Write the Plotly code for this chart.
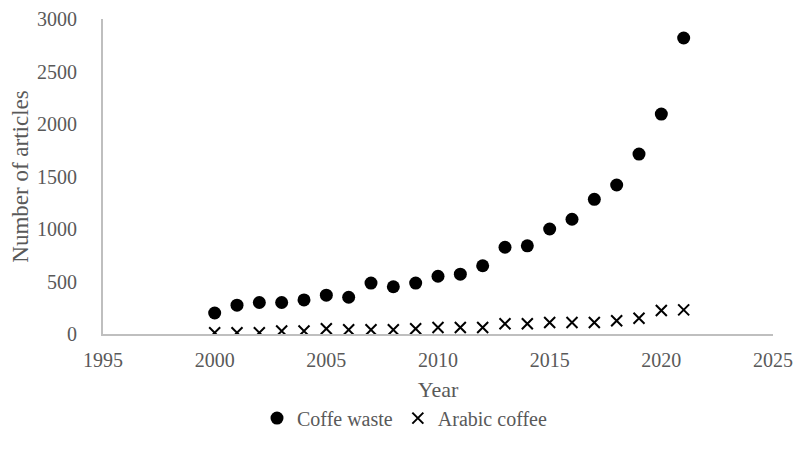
import plotly.graph_objects as go

# Publication counts per year
years = [2000, 2001, 2002, 2003, 2004, 2005, 2006, 2007, 2008, 2009, 2010,
         2011, 2012, 2013, 2014, 2015, 2016, 2017, 2018, 2019, 2020, 2021]
coffee_waste = [200, 275, 300, 300, 325, 370, 350, 485, 450, 485, 550,
                570, 650, 826, 840, 1000, 1093, 1283, 1419, 1714, 2095, 2819]
arabic_coffee = [12, 12, 12, 28, 28, 50, 40, 40, 40, 50, 62,
                 62, 62, 97, 97, 110, 110, 110, 127, 150, 224, 230]

x_ticks = [1995, 2000, 2005, 2010, 2015, 2020, 2025]
y_ticks = [0, 500, 1000, 1500, 2000, 2500, 3000]

TEXT = "#595959"
AXIS = "#bfbfbf"
FONT = "Liberation Serif"

fig = go.Figure()
fig.add_trace(go.Scatter(
    x=years, y=coffee_waste, mode="markers", name="Coffe waste",
    marker=dict(symbol="circle", size=13, color="black"),
))
fig.add_trace(go.Scatter(
    x=years, y=arabic_coffee, mode="markers", name="Arabic coffee",
    marker=dict(symbol="x-thin", size=11, color="black",
                line=dict(color="black", width=2)),
))

fig.update_layout(
    width=796, height=456,
    margin=dict(l=103, r=23, t=19, b=122),
    paper_bgcolor="white", plot_bgcolor="white",
    font=dict(family=FONT, size=20, color=TEXT),
    showlegend=True,
    legend=dict(orientation="h", x=0.45, xanchor="center", y=-0.267,
                yanchor="middle", font=dict(family=FONT, size=20, color=TEXT),
                itemwidth=30, tracegroupgap=0),
)
fig.update_xaxes(
    range=[1995, 2025], tickvals=x_ticks, showgrid=False, zeroline=False,
    showline=True, linecolor=AXIS, linewidth=2, ticks="",
    automargin=False, ticklabelstandoff=7,
    title=dict(text="Year", standoff=12, font=dict(family=FONT, size=22, color=TEXT)),
    tickfont=dict(family=FONT, size=20, color=TEXT),
)
fig.update_yaxes(
    range=[0, 3000], tickvals=y_ticks, showgrid=False, zeroline=False,
    showline=True, linecolor=AXIS, linewidth=2, ticks="",
    automargin=False, ticklabelstandoff=20,
    title=dict(text="Number of articles", standoff=2,
               font=dict(family=FONT, size=23, color=TEXT)),
    tickfont=dict(family=FONT, size=20, color=TEXT),
)

fig.write_html("out.html")
